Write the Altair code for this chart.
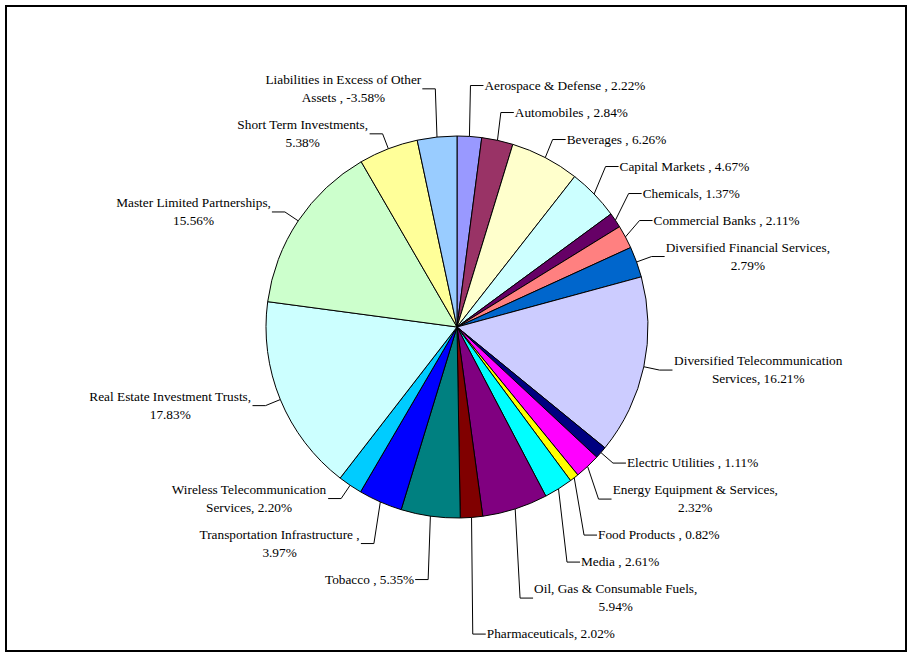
import math
import altair as alt
import pandas as pd

# ---------------- data ----------------
categories = [
    "Aerospace & Defense", "Automobiles", "Beverages", "Capital Markets", "Chemicals",
    "Commercial Banks", "Diversified Financial Services", "Diversified Telecommunication Services",
    "Electric Utilities", "Energy Equipment & Services", "Food Products", "Media",
    "Oil, Gas & Consumable Fuels", "Pharmaceuticals", "Tobacco", "Transportation Infrastructure",
    "Wireless Telecommunication Services", "Real Estate Investment Trusts",
    "Master Limited Partnerships", "Short Term Investments", "Liabilities in Excess of Other Assets",
]
values = [2.22, 2.84, 6.26, 4.67, 1.37, 2.11, 2.79, 16.21, 1.11, 2.32, 0.82, 2.61,
          5.94, 2.02, 5.35, 3.97, 2.20, 17.83, 15.56, 5.38, -3.58]
label_texts = [
    "Aerospace & Defense , 2.22%", "Automobiles , 2.84%", "Beverages , 6.26%",
    "Capital Markets , 4.67%", "Chemicals, 1.37%", "Commercial Banks , 2.11%",
    "Diversified Financial Services,\n2.79%", "Diversified Telecommunication\nServices, 16.21%",
    "Electric Utilities , 1.11%", "Energy Equipment & Services,\n2.32%", "Food Products , 0.82%",
    "Media , 2.61%", "Oil, Gas & Consumable Fuels,\n5.94%", "Pharmaceuticals, 2.02%",
    "Tobacco , 5.35%", "Transportation Infrastructure ,\n3.97%",
    "Wireless Telecommunication\nServices, 2.20%", "Real Estate Investment Trusts,\n17.83%",
    "Master Limited Partnerships,\n15.56%", "Short Term Investments,\n5.38%",
    "Liabilities in Excess of Other\nAssets , -3.58%",
]
colors = ["#9999FF", "#993366", "#FFFFCC", "#CCFFFF", "#660066", "#FF8080", "#0066CC",
          "#CCCCFF", "#000080", "#FF00FF", "#FFFF00", "#00FFFF", "#800080", "#800000",
          "#008080", "#0000FF", "#00CCFF", "#CCFFFF", "#CCFFCC", "#FFFF99", "#99CCFF"]

# ---------------- layout / style ----------------
W, H = 900, 645          # plot area (chart-area border)
CX, CY = 451, 321        # pie centre inside the plot area
R = 191                  # pie radius
R_LABEL = 207            # radius of leader-line elbows
ELBOW_LEN = 13           # horizontal part of leader line
LINE_H = 18
FONT = "Liberation Serif"
FONT_SIZE = 13.3

# Times-compatible advance widths (per 1000 em) for centring 2-line labels
_TW = dict(zip("abcdefghijklmnopqrstuvwxyz",
               [444, 500, 444, 500, 444, 333, 500, 500, 278, 278, 500, 278, 778, 500, 500,
                500, 500, 333, 389, 278, 500, 500, 722, 500, 500, 444]))
_TW.update(dict(zip("ABCDEFGHIJKLMNOPQRSTUVWXYZ",
                    [722, 667, 667, 722, 611, 556, 722, 722, 333, 389, 722, 611, 889, 722, 722,
                     556, 722, 667, 556, 611, 722, 722, 944, 722, 722, 611])))
_TW.update({" ": 250, ",": 250, ".": 250, "&": 778, "%": 833, "-": 333})
for d in "0123456789":
    _TW[d] = 500


def text_width(s):
    return max(sum(_TW.get(c, 500) for c in line) for line in s.split("\n")) * FONT_SIZE / 1000


n = len(values)
shares = [abs(v) for v in values]
total = sum(shares)

# mid angles (clockwise from 12 o'clock, same as Vega-Lite theta)
mids, cum = [], 0.0
for s in shares:
    mids.append(2 * math.pi * (cum + s / 2) / total)
    cum += s

nat_x = [CX + R_LABEL * math.sin(a) for a in mids]
nat_y = [CY - R_LABEL * math.cos(a) for a in mids]
nlines = [t.count("\n") + 1 for t in label_texts]


def half(k):
    return 4.5 + 9 * nlines[k]


# de-overlap labels on each side, pushing outward from the label nearest the horizontal
lab_y = {}
right = [i for i in range(n) if mids[i] < math.pi]
left = [i for i in range(n) if mids[i] >= math.pi]
for side in (right, left):
    idx = sorted(side, key=lambda i: nat_y[i])
    piv = min(range(len(idx)), key=lambda k: abs(nat_y[idx[k]] - CY))
    lab_y[idx[piv]] = nat_y[idx[piv]]
    for k in range(piv - 1, -1, -1):
        i, j = idx[k], idx[k + 1]
        lab_y[i] = min(nat_y[i], lab_y[j] - half(i) - half(j))
    for k in range(piv + 1, len(idx)):
        i, j = idx[k], idx[k - 1]
        lab_y[i] = max(nat_y[i], lab_y[j] + half(i) + half(j))

seg_rows, lab_rows = [], []
for i in range(n):
    sgn = 1 if mids[i] < math.pi else -1
    px, py = CX + R * math.sin(mids[i]), CY - R * math.cos(mids[i])
    ex, ey = nat_x[i], lab_y[i]
    edge = ex + sgn * ELBOW_LEN
    seg_rows.append({"x": px, "y": py, "x2": ex, "y2": ey})
    seg_rows.append({"x": ex, "y": ey, "x2": edge, "y2": ey})
    if nlines[i] == 1:
        anchor = "left" if sgn > 0 else "right"
        tx = edge + sgn * 1
    else:
        anchor = "center"
        tx = edge + sgn * (1 + text_width(label_texts[i]) / 2)
    # Vega places the first line at y; centre the whole block on the elbow
    ty = ey - (nlines[i] - 1) * LINE_H / 2
    lab_rows.append({"label": label_texts[i], "tx": tx, "ty": ty, "anchor": anchor})

pie_df = pd.DataFrame({"idx": list(range(n)), "category": categories, "share": shares})
seg_df = pd.DataFrame(seg_rows)
lab_df = pd.DataFrame(lab_rows)

pie = alt.Chart(pie_df).mark_arc(outerRadius=R, stroke="black", strokeWidth=1).encode(
    theta=alt.Theta("share:Q", stack=True),
    order=alt.Order("idx:Q", sort="ascending"),
    color=alt.Color("category:N", scale=alt.Scale(domain=categories, range=colors), legend=None),
    x=alt.value(CX),
    y=alt.value(CY),
)

rules = alt.Chart(seg_df).mark_rule(color="black", strokeWidth=1).encode(
    x=alt.X("x:Q", scale=None, axis=None),
    y=alt.Y("y:Q", scale=None, axis=None),
    x2="x2:Q",
    y2="y2:Q",
)


def text_layer(anchor):
    return alt.Chart(lab_df).transform_filter(alt.datum.anchor == anchor).mark_text(
        align=anchor, baseline="middle", font=FONT, fontSize=FONT_SIZE,
        lineBreak="\n", lineHeight=LINE_H, color="black",
    ).encode(
        x=alt.X("tx:Q", scale=None, axis=None),
        y=alt.Y("ty:Q", scale=None, axis=None),
        text="label:N",
    )


chart = alt.layer(
    pie, rules, text_layer("left"), text_layer("right"), text_layer("center")
).properties(
    width=W,
    height=H,
    padding={"left": 6, "top": 6, "right": 9, "bottom": 6},
    autosize=alt.AutoSizeParams(type="none"),
    background="white",
).configure_view(stroke="black", strokeWidth=2)

chart.save("out.html", embed_options={"renderer": "svg", "actions": False})
